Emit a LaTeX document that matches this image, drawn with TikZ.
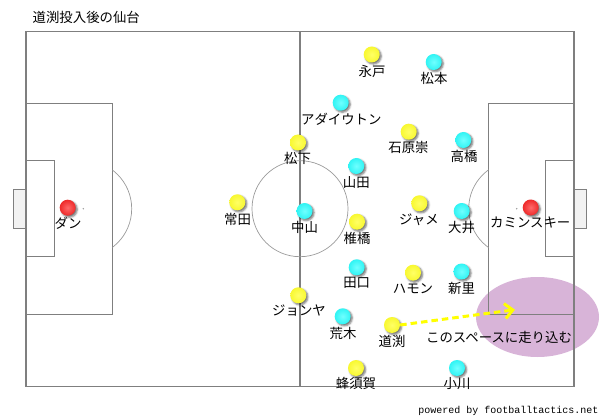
\documentclass[tikz,border=0pt]{standalone}
\usepackage{fontspec}
\setmainfont{Noto Sans CJK JP}
\newfontfamily\monofnt{Liberation Mono}
\usetikzlibrary{shadows.blur,arrows.meta}
\definecolor{fieldline}{HTML}{7F7F7F}
\definecolor{arcline}{HTML}{9A9A9A}
\definecolor{goalfill}{HTML}{F2F2F2}
\definecolor{spacefill}{HTML}{D8B4D8}
\definecolor{ylwO}{HTML}{F8F830}
\definecolor{ylwI}{HTML}{FFFF66}
\definecolor{cyaO}{HTML}{30F4F4}
\definecolor{cyaI}{HTML}{70FFFF}
\definecolor{redO}{HTML}{EE2A2A}
\definecolor{redI}{HTML}{FF6A6A}
\definecolor{runline}{HTML}{FFFF00}
\newcommand\plr[6]{%
  \node[#2] (#1) at (#3,#4) {};
  \node[lbl] (#1-l) at (#5) {#6};}
\begin{document}
\begin{tikzpicture}[x=1pt,y=-1pt,
  fieldstroke/.style={draw=fieldline,line width=1.2pt},
  thinarc/.style={draw=arcline,line width=0.7pt},
  player/.style={circle,minimum size=16pt,inner sep=0pt,
    blur shadow={shadow xshift=1.6pt,shadow yshift=-1.6pt,shadow blur radius=1.8pt,shadow opacity=55}},
  yp/.style={player,inner color=ylwI,outer color=ylwO},
  cp/.style={player,inner color=cyaI,outer color=cyaO},
  rp/.style={player,inner color=redI,outer color=redO},
  lbl/.style={font=\fontsize{13.4}{14}\selectfont,inner sep=0pt},
  runarrow/.style={draw=runline,line width=3pt,dash pattern=on 6.5pt off 4pt,
    -{Straight Barb[length=8pt,width=15pt,line width=3pt]}}
]
\useasboundingbox (0,0) rectangle (600,417);
% space ellipse
\fill[spacefill] (537.5,317) ellipse[x radius=61.5pt,y radius=40pt];
% goals
\filldraw[fill=goalfill,fieldstroke] (13.3,189.3) rectangle (26,228.3);
\filldraw[fill=goalfill,fieldstroke] (574,189.3) rectangle (586.3,228.3);
% field
\draw[fieldstroke] (26,31.3) rectangle (574,386.3);
\draw[fieldstroke] (300,31.3) -- (300,386.3);
\draw[fieldstroke] (26,103.3) rectangle (112.3,314.3);
\draw[fieldstroke] (26,160.3) rectangle (54.3,256.3);
\draw[fieldstroke] (488.7,103.3) rectangle (574,314.3);
\draw[fieldstroke] (545.7,160.3) rectangle (574,256.3);
\draw[thinarc] (300,208.7) circle[radius=48pt];
\begin{scope}
  \clip (112.3,31) rectangle (300,386);
  \draw[thinarc] (83.3,208.7) circle[radius=48.4pt];
\end{scope}
\begin{scope}
  \clip (300,31) rectangle (488.7,386);
  \draw[thinarc] (516.7,208.7) circle[radius=48pt];
\end{scope}
\fill[arcline] (83.3,208.7) circle[radius=0.8pt];
\fill[arcline] (516.7,208.7) circle[radius=0.8pt];
% title and credit
\node[lbl,anchor=west] (title) at (32.5,17.5) {道渕投入後の仙台};
\node[font=\monofnt\fontsize{10}{12}\selectfont,inner sep=0pt,anchor=base east] (credit) at (598.5,413) {powered by footballtactics.net};
% players
\plr{nagato}{yp}{371.7}{54.5}{372,71}{永戸}
\plr{matsumoto}{cp}{433.7}{62}{434,78}{松本}
\plr{adailton}{cp}{340.7}{102.7}{341.3,119}{アダイウトン}
\plr{ishihara}{yp}{408.7}{131.7}{408.5,147.5}{石原崇}
\plr{takahashi}{cp}{463.3}{140}{464,156}{高橋}
\plr{matsushita}{yp}{298}{142.5}{297.5,158.5}{松下}
\plr{yamada}{cp}{356.3}{166}{356.3,182.3}{山田}
\plr{tsuneta}{yp}{237.3}{202.3}{237.5,219}{常田}
\plr{nakayama}{cp}{304.5}{211}{304.5,227}{中山}
\plr{jame}{yp}{419.3}{203.3}{419,220}{ジャメ}
\plr{shiihashi}{yp}{357}{221.7}{357,238}{椎橋}
\plr{oi}{cp}{461.7}{211}{461.5,227.5}{大井}
\plr{dan}{rp}{67.7}{207.7}{68,223}{ダン}
\plr{kaminski}{rp}{530.7}{207.5}{530.3,223}{カミンスキー}
\plr{taguchi}{cp}{356.7}{267.3}{356.7,283.3}{田口}
\plr{hamon}{yp}{413}{272.7}{413,288.7}{ハモン}
\plr{shinzato}{cp}{461.5}{271.5}{461.5,288}{新里}
\plr{jonya}{yp}{298.3}{295.3}{299,311}{ジョンヤ}
\plr{araki}{cp}{342.7}{316.3}{343,333.3}{荒木}
\plr{michibuchi}{yp}{392}{325}{392,341}{道渕}
\plr{hachisuka}{yp}{356}{368}{356,383.5}{蜂須賀}
\plr{ogawa}{cp}{457}{368}{457,383.5}{小川}
% run arrow
\coordinate (runend) at (515,309.7);
\draw[runarrow] (michibuchi.east) -- (runend);
\node[lbl] (spacetext) at (499,337.3) {このスペースに走り込む};
\end{tikzpicture}
\end{document}
